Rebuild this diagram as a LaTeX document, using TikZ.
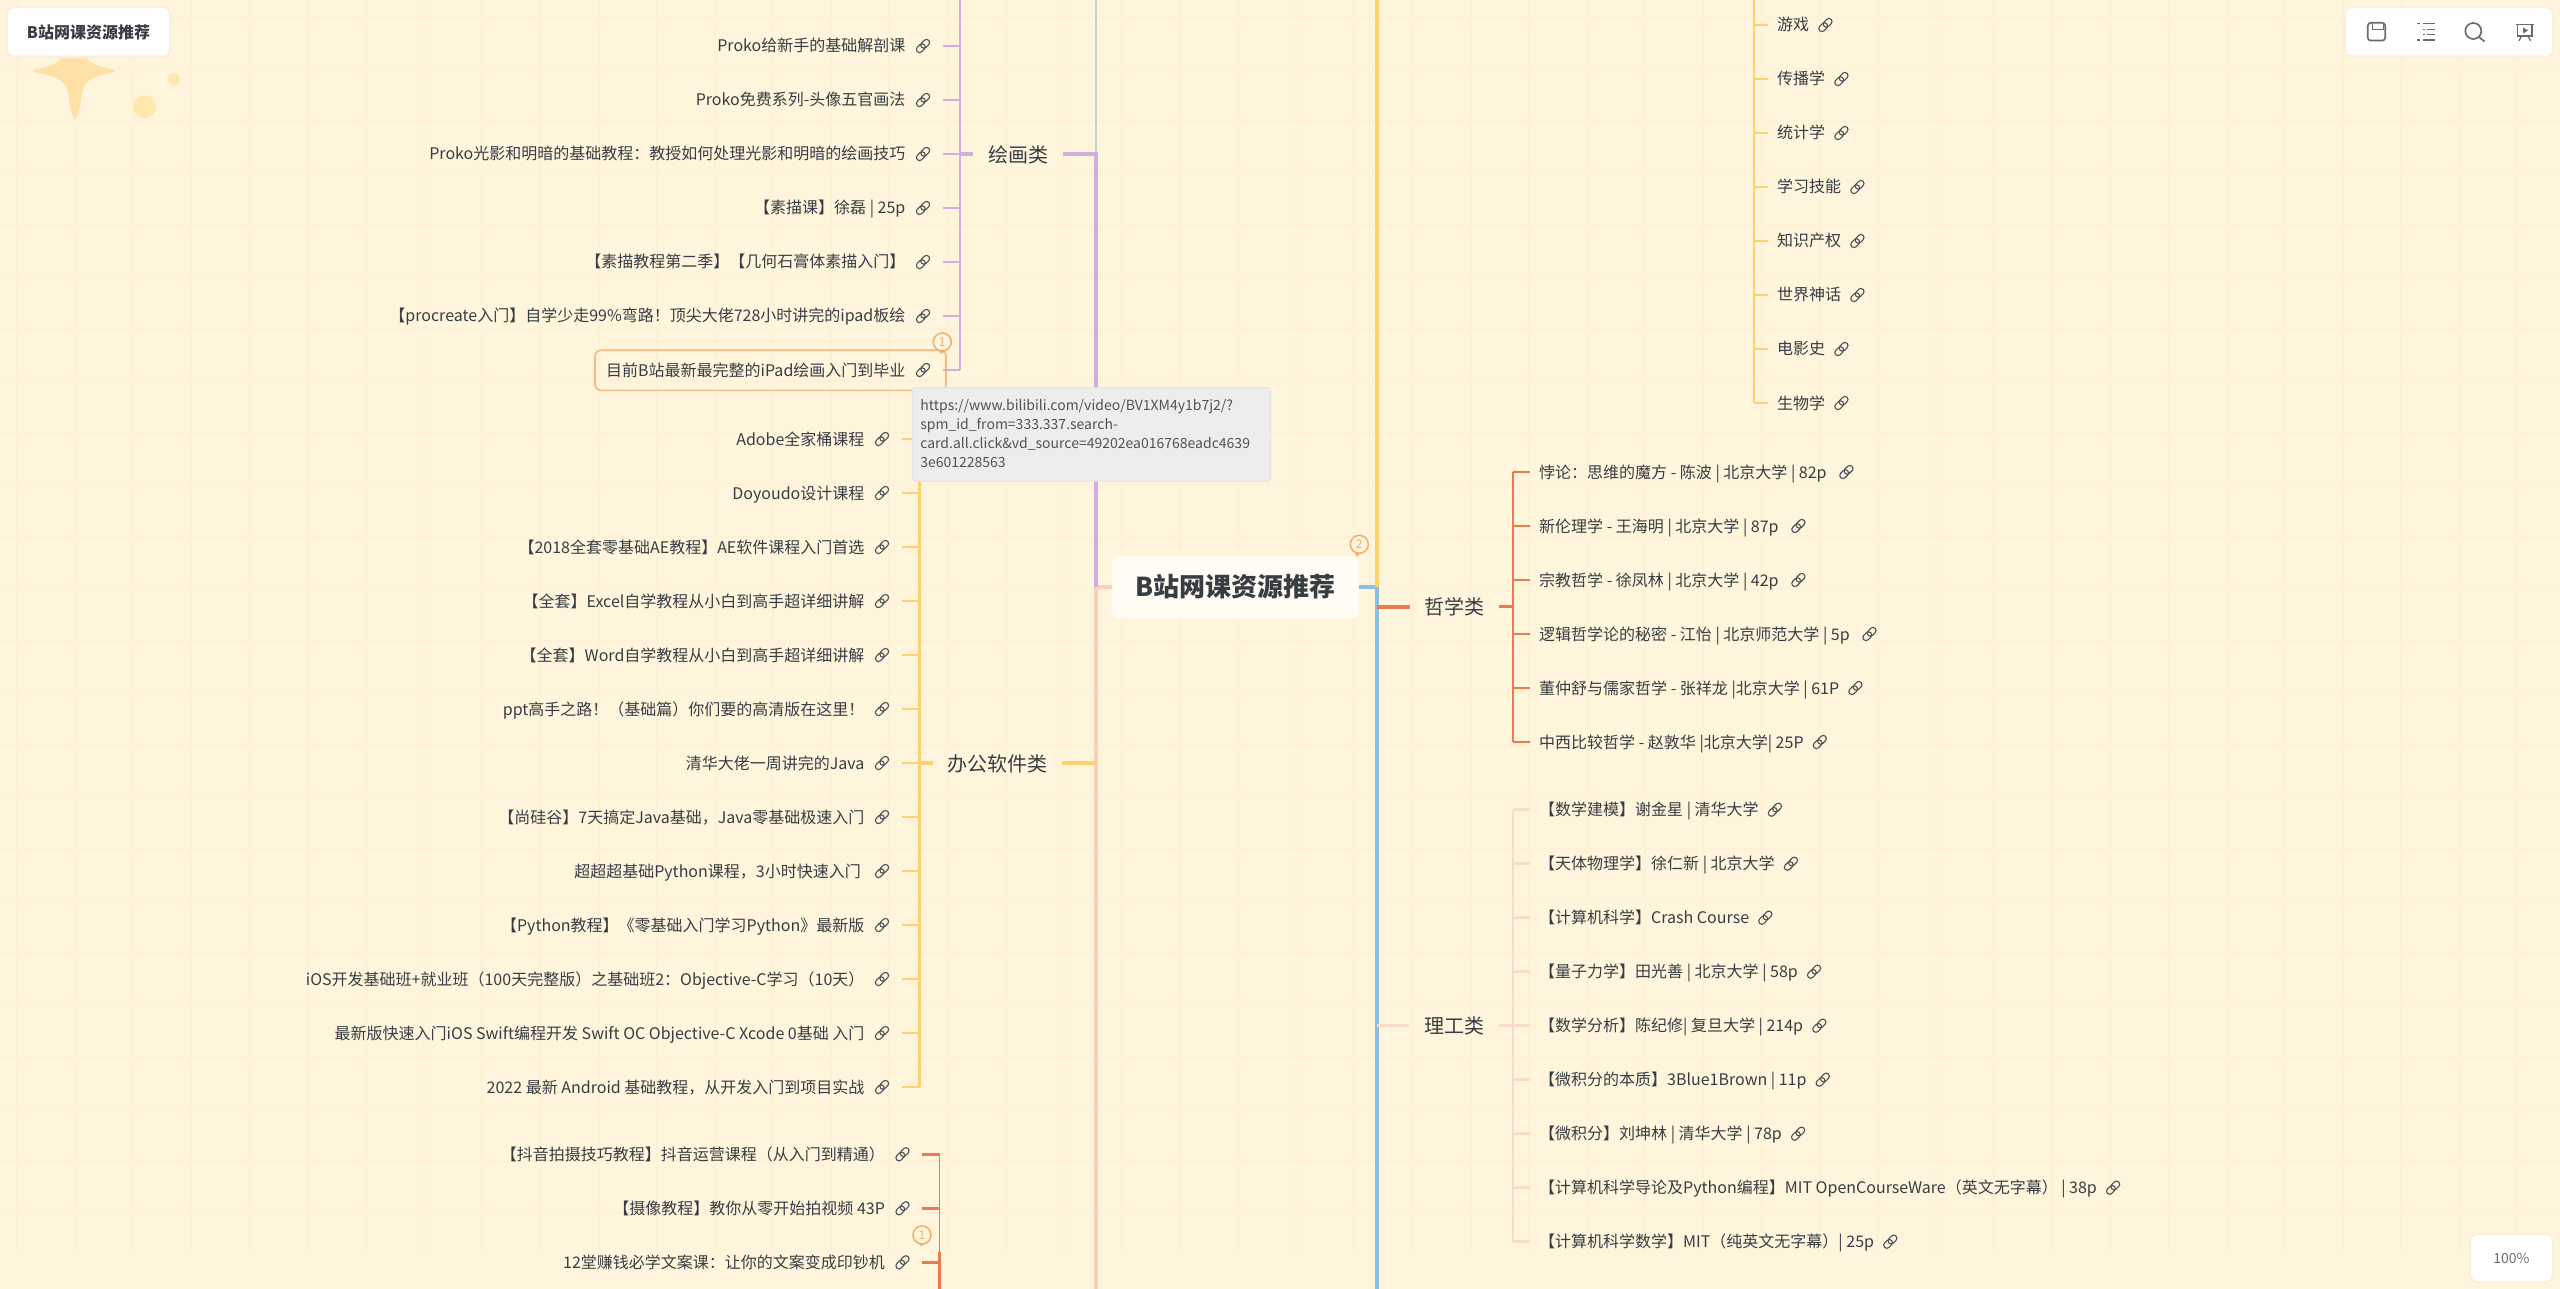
\documentclass[tikz,border=0pt]{standalone}
\usepackage{fontspec}
\setmainfont{Noto Sans CJK SC}
\definecolor{pagebg}{HTML}{FFF5DD}
\definecolor{gridc}{HTML}{FEF1D5}
\definecolor{inkc}{HTML}{383C43}
\definecolor{iconc}{HTML}{4C5056}
\definecolor{toolc}{HTML}{6A6D70}
\definecolor{purplec}{HTML}{D1ADE0}
\definecolor{tealc}{HTML}{B7DAD6}
\definecolor{yellowc}{HTML}{FDD26E}
\definecolor{redc}{HTML}{EC7A50}
\definecolor{peachc}{HTML}{FBCFB8}
\definecolor{lpeachc}{HTML}{F9DBCB}
\definecolor{bluec}{HTML}{8FBDDF}
\definecolor{badgec}{HTML}{F2AE6C}
\definecolor{starc}{HTML}{FFE1A8}
\definecolor{dotc}{HTML}{FFE8AE}
\definecolor{rootc}{HTML}{FFFDF3}
\definecolor{tipc}{HTML}{EDEDED}
\definecolor{shadowc}{HTML}{FBEFD9}
\newcommand{\tsp}{\kern.224em\relax}
\tikzset{
  leaftext/.style={inner xsep=0pt,inner ysep=0pt,text height=12pt,text depth=0pt,text=inkc,font=\fontsize{16}{16}\selectfont},
  righttext/.style={leaftext,inner xsep=9pt},
  linkslot/.style={inner sep=0pt,minimum width=39.2pt,minimum height=16pt},
  iconslot/.style={inner sep=0pt,minimum width=15pt,minimum height=15pt},
  branchtext/.style={inner xsep=14.5pt,inner ysep=0pt,text height=16.4pt,text depth=0pt,text=inkc,font=\fontsize{20}{20}\selectfont},
  tick/.style={line width=2.8pt,#1},
  stem/.style={line width=2.5pt,#1},
  thinstem/.style={line width=1.7pt,#1},
  maintrunk/.style={line width=3.2pt,#1},
  card/.style={fill=white,rounded corners=7pt,draw=none},
  cardshadow/.style={fill=shadowc,rounded corners=9pt,draw=none},
  badgenode/.style={circle,draw=badgec,line width=1.5pt,fill=pagebg,minimum size=18pt,inner sep=0pt,text=badgec,font=\fontsize{12}{12}\selectfont},
  toolline/.style={draw=toolc,line width=1.7pt},
  chainicon/.pic={
    \draw[iconc,line width=1.1pt,rotate=45,rounded corners=3pt] (-8,-3.1) rectangle (1.8,3.1);
    \draw[iconc,line width=1.1pt,rotate=45,rounded corners=3pt] (-1.8,-3.1) rectangle (8,3.1);
  }
}
% left-hand leaf: id, icon x, y, colour, trunk coordinate, text
\newcommand{\leafL}[6]{%
  \node[linkslot] (#1i) at (#2,#3) {};
  \pic at (#1i) {chainicon};
  \node[leaftext,anchor=east] (#1) at ([xshift=-17.4pt]#1i.center) {#6};
  \draw[tick=#4] (#1i.east) -- (#1i.east -| #5);
}
% right-hand leaf: id, tick end x, y, colour, trunk coordinate, text
\newcommand{\leafR}[6]{%
  \node[righttext,anchor=west] (#1) at (#2,#3) {#6};
  \node[iconslot] (#1i) at ([xshift=7pt]#1.east) {};
  \pic at (#1i) {chainicon};
  \draw[tick=#4] (#1.west) -- (#1.west -| #5);
}
\begin{document}
\begin{tikzpicture}[x=1pt,y=-1pt]
\useasboundingbox (0,0) rectangle (2560,1289);
\clip (0,0) rectangle (2560,1289);
\fill[pagebg] (0,0) rectangle (2560,1289);
% grid
\foreach \k in {0,...,44}{\draw[gridc,line width=2pt] ({17+58.15*\k},0) -- ({17+58.15*\k},1252);}
\foreach \k in {0,...,23}{\draw[gridc,line width=2pt] (0,{17.3+52*\k}) -- (2560,{17.3+52*\k});}
% decoration under the title card
\fill[starc,draw=starc,line width=2pt,line join=round] (34,71) .. controls (50,67) and (62,65) .. (65,52) -- (83,52) .. controls (86,65) and (98,67) .. (114,71) .. controls (96,75) and (83,78) .. (81,93) .. controls (80,103) and (78,112) .. (75,118) .. controls (72,112) and (70,103) .. (69,93) .. controls (67,78) and (54,75) .. (34,71) -- cycle;
\fill[dotc] (144.7,106.7) circle (11.5);
\fill[dotc] (174,79) circle (6);
% root and trunk anchors
\node[fill=rootc,rounded corners=8pt,minimum width=247pt,minimum height=63pt,inner sep=0pt,text=inkc,font=\fontsize{26}{26}\bfseries\selectfont] (root) at (1235.5,587) {B站网课资源推荐};
\node[branchtext] (paint) at (1018,154) {绘画类};
\coordinate (topL) at (1096,0);
\coordinate (botL) at (1096,1289);
\coordinate (topR) at (1377,0);
\coordinate (botR) at (1377,1289);
\draw[maintrunk=peachc] (root.west) -| (botL);
\draw[maintrunk=tealc,line width=2.6pt] (paint.east -| topL) -- (topL);
\draw[maintrunk=purplec] (root.west -| topL) -- (paint.east -| topL) -- (paint.east);
\draw[maintrunk=bluec] (root.east) -| (botR);
\draw[maintrunk=yellowc] (root.east -| topR) -- (topR);
% painting
\coordinate (paintT) at (960,0);
\draw[tick=purplec,line width=3.4pt] (paint.west) -- (paint.west -| paintT);
\leafL{pa}{923}{46}{purplec}{paintT}{Proko给新手的基础解剖课}
\leafL{pb}{923}{100}{purplec}{paintT}{Proko免费系列-头像五官画法}
\leafL{pc}{923}{154}{purplec}{paintT}{Proko光影和明暗的基础教程：教授如何处理光影和明暗的绘画技巧}
\leafL{pd}{923}{208}{purplec}{paintT}{【素描课】徐磊 | 25p}
\leafL{pe}{923}{262}{purplec}{paintT}{【素描教程第二季】【几何石膏体素描入门】}
\leafL{pf}{923}{316}{purplec}{paintT}{【procreate入门】自学少走99\%弯路！顶尖大佬728小时讲完的ipad板绘}
\leafL{pg}{923}{370}{purplec}{paintT}{目前B站最新最完整的iPad绘画入门到毕业}
\draw[stem=purplec] (paintT) -- (paintT |- pgi.east);
\node[draw=badgec!85,line width=1.6pt,rounded corners=6pt,minimum width=351pt,minimum height=40pt,inner sep=0pt] (hl) at (770.5,370.3) {};
% office
\node[branchtext] (office) at (997.5,763) {办公软件类};
\coordinate (officeT) at (919.5,439);
\draw[tick=yellowc,line width=3.4pt] (office.east) -- (office.east -| topL);
\draw[tick=yellowc,line width=3.4pt] (office.west) -- (office.west -| officeT);
\leafL{oa}{882}{439}{yellowc}{officeT}{Adobe全家桶课程}
\leafL{ob}{882}{493}{yellowc}{officeT}{Doyoudo设计课程}
\leafL{oc}{882}{547}{yellowc}{officeT}{【2018全套零基础AE教程】AE软件课程入门首选}
\leafL{od}{882}{601}{yellowc}{officeT}{【全套】Excel自学教程从小白到高手超详细讲解}
\leafL{oe}{882}{655}{yellowc}{officeT}{【全套】Word自学教程从小白到高手超详细讲解}
\leafL{of}{882}{709}{yellowc}{officeT}{ppt高手之路！（基础篇）你们要的高清版在这里！}
\leafL{og}{882}{763}{yellowc}{officeT}{清华大佬一周讲完的Java}
\leafL{oh}{882}{817}{yellowc}{officeT}{【尚硅谷】7天搞定Java基础，Java零基础极速入门}
\leafL{oi}{882}{871}{yellowc}{officeT}{超超超基础Python课程，3小时快速入门\tsp}
\leafL{oj}{882}{925}{yellowc}{officeT}{【Python教程】《零基础入门学习Python》最新版}
\leafL{ok}{882}{979}{yellowc}{officeT}{iOS开发基础班+就业班（100天完整版）之基础班2：Objective-C学习（10天）}
\leafL{ol}{882}{1033}{yellowc}{officeT}{最新版快速入门iOS Swift编程开发 Swift OC Objective-C Xcode 0基础 入门}
\leafL{om}{882}{1087}{yellowc}{officeT}{2022 最新 Android 基础教程，从开发入门到项目实战}
\draw[stem=yellowc] (officeT) -- (officeT |- omi.east);
% video group
\coordinate (videoT) at (939.5,1154.3);
\coordinate (videoM) at (939.5,1252);
\coordinate (videoB) at (939.5,1289);
\leafL{va}{902.5}{1154.3}{redc}{videoT}{【抖音拍摄技巧教程】抖音运营课程（从入门到精通）}
\leafL{vb}{902.5}{1208.3}{redc}{videoT}{【摄像教程】教你从零开始拍视频 43P}
\leafL{vc}{902.5}{1262.3}{redc}{videoT}{12堂赚钱必学文案课：让你的文案变成印钞机}
\draw[stem=redc,line width=1.9pt] (videoT) -- (videoM);
\draw[stem=redc,line width=3pt] (videoM) -- (videoB);
% upper right group
\coordinate (miscT) at (1754,0);
\leafR{ma}{1768}{25}{yellowc}{miscT}{游戏}
\leafR{mb}{1768}{79}{yellowc}{miscT}{传播学}
\leafR{mc}{1768}{133}{yellowc}{miscT}{统计学}
\leafR{md}{1768}{187}{yellowc}{miscT}{学习技能}
\leafR{me}{1768}{241}{yellowc}{miscT}{知识产权}
\leafR{mf}{1768}{295}{yellowc}{miscT}{世界神话}
\leafR{mg}{1768}{349}{yellowc}{miscT}{电影史}
\leafR{mh}{1768}{403}{yellowc}{miscT}{生物学}
\draw[thinstem=yellowc] (miscT) -- (miscT |- mh.west);
% philosophy
\node[branchtext] (phil) at (1454.5,606.7) {哲学类};
\coordinate (philT) at (1512.7,472);
\draw[tick=redc,line width=3.6pt] (phil.west) -- (phil.west -| topR);
\draw[tick=redc,line width=3pt] (phil.east) -- (phil.east -| philT);
\leafR{ha}{1530}{472}{redc}{philT}{悖论：思维的魔方 - 陈波 | 北京大学 | 82p\tsp}
\leafR{hb}{1530}{526}{redc}{philT}{新伦理学 - 王海明 | 北京大学 | 87p\tsp}
\leafR{hc}{1530}{580}{redc}{philT}{宗教哲学 - 徐凤林 | 北京大学 | 42p\tsp}
\leafR{hd}{1530}{634}{redc}{philT}{逻辑哲学论的秘密 - 江怡 | 北京师范大学 | 5p\tsp}
\leafR{he}{1530}{688}{redc}{philT}{董仲舒与儒家哲学 - 张祥龙 |北京大学 | 61P}
\leafR{hf}{1530}{742}{redc}{philT}{中西比较哲学 - 赵敦华 |北京大学| 25P}
\draw[stem=redc,line width=2pt] (philT) -- (philT |- hf.west);
% science
\node[branchtext] (sci) at (1454,1025.7) {理工类};
\coordinate (sciT) at (1513,809.5);
\draw[tick=lpeachc,line width=3.4pt] (sci.west) -- (sci.west -| topR);
\draw[tick=lpeachc] (sci.east) -- (sci.east -| sciT);
\leafR{sa}{1530}{809.7}{lpeachc}{sciT}{【数学建模】谢金星 | 清华大学}
\leafR{sb}{1530}{863.7}{lpeachc}{sciT}{【天体物理学】徐仁新 | 北京大学}
\leafR{sc}{1530}{917.7}{lpeachc}{sciT}{【计算机科学】Crash Course}
\leafR{sd}{1530}{971.7}{lpeachc}{sciT}{【量子力学】田光善 | 北京大学 | 58p}
\leafR{se}{1530}{1025.7}{lpeachc}{sciT}{【数学分析】陈纪修| 复旦大学 | 214p}
\leafR{sf}{1530}{1079.7}{lpeachc}{sciT}{【微积分的本质】3Blue1Brown | 11p}
\leafR{sg}{1530}{1133.7}{lpeachc}{sciT}{【微积分】刘坤林 | 清华大学 | 78p}
\leafR{sh}{1530}{1187.7}{lpeachc}{sciT}{【计算机科学导论及Python编程】MIT OpenCourseWare（英文无字幕） | 38p}
\leafR{si}{1530}{1241.7}{lpeachc}{sciT}{【计算机科学数学】MIT（纯英文无字幕）| 25p}
\draw[stem=lpeachc,line width=2pt] (sciT) -- (sciT |- si.west);
% badges
\fill[badgec] (938.5,349.5) -- (944.5,350.5) -- (941,354) -- cycle;
\node[badgenode] (b1) at (942.3,342) {1};
\fill[badgec] (1354.5,552) -- (1360.5,553) -- (1357,556.5) -- cycle;
\node[badgenode] (b2) at (1359.3,544.3) {2};
\fill[badgec] (919,1243) -- (925,1243.5) -- (921,1246.5) -- cycle;
\node[badgenode] (b3) at (922,1235) {1};
% tooltip
\node[anchor=north west,fill=tipc,draw=black!12,line width=.8pt,rounded corners=3pt,minimum width=358.5pt,minimum height=93.4pt,inner sep=0pt] (tip) at (911.8,387.3) {};
\node[anchor=north west,inner sep=0pt,align=left,text=black!68,font=\fontsize{14}{19}\selectfont] (tiptext) at ([xshift=8.3pt,yshift=-12pt]tip.north west) {https://www.bilibili.com/video/BV1XM4y1b7j2/?\\spm\_id\_from=333.337.search-\\card.all.click\&vd\_source=49202ea016768eadc4639\\3e601228563};
% title card
\fill[cardshadow] (6,6) rectangle (171,58.5);
\node[card,minimum width=161pt,minimum height=47.7pt,inner sep=0pt,text height=13.4pt,text depth=0pt,text=inkc,font=\fontsize{16}{16}\bfseries\selectfont] (title) at (88.5,31.9) {B站网课资源推荐};
% toolbar card
\fill[cardshadow] (2344,6) rectangle (2554,58.5);
\node[card,minimum width=206pt,minimum height=47.7pt,inner sep=0pt] (toolbar) at (2449,31.9) {};
\draw[toolline,rounded corners=3pt] (2367.8,22.8) rectangle (2385.2,40.6);
\draw[toolline,line width=1.3pt] (2372.5,23) -- (2372.5,29.3) -- (2383.5,29.3) -- (2383.5,23);
\draw[toolline] (2416.5,23.5) -- (2419.5,23.5) (2422.5,23.5) -- (2435,23.5);
\draw[toolline] (2422.5,29.5) -- (2424.5,29.5) (2426.5,29.5) -- (2435,29.5);
\draw[toolline] (2422.5,34.5) -- (2424.5,34.5) (2426.5,34.5) -- (2435,34.5);
\draw[toolline] (2416.5,40) -- (2419.5,40) (2422.5,40) -- (2435,40);
\draw[toolline] (2473.3,31) circle (8);
\draw[toolline] (2479,37) -- (2484.5,41.5);
\draw[toolline,line width=1.5pt] (2515.5,24.5) -- (2534,24.5);
\draw[toolline,line width=1.5pt] (2517.5,24.5) -- (2517.5,36.2) -- (2532,36.2) -- (2532,24.5);
\draw[toolline,line width=1.3pt] (2521.5,36.2) -- (2519,40.8) (2528,36.2) -- (2530.5,40.8);
\fill[toolc] (2523,27.5) -- (2523,33.5) -- (2528,30.5) -- cycle;
% zoom card
\fill[cardshadow] (2469,1233) rectangle (2554,1283);
\node[card,minimum width=81pt,minimum height=46pt,inner sep=0pt,text=toolc,font=\fontsize{14}{14}\selectfont] (zoomcard) at (2511.5,1258) {100\%};
\end{tikzpicture}
\end{document}
